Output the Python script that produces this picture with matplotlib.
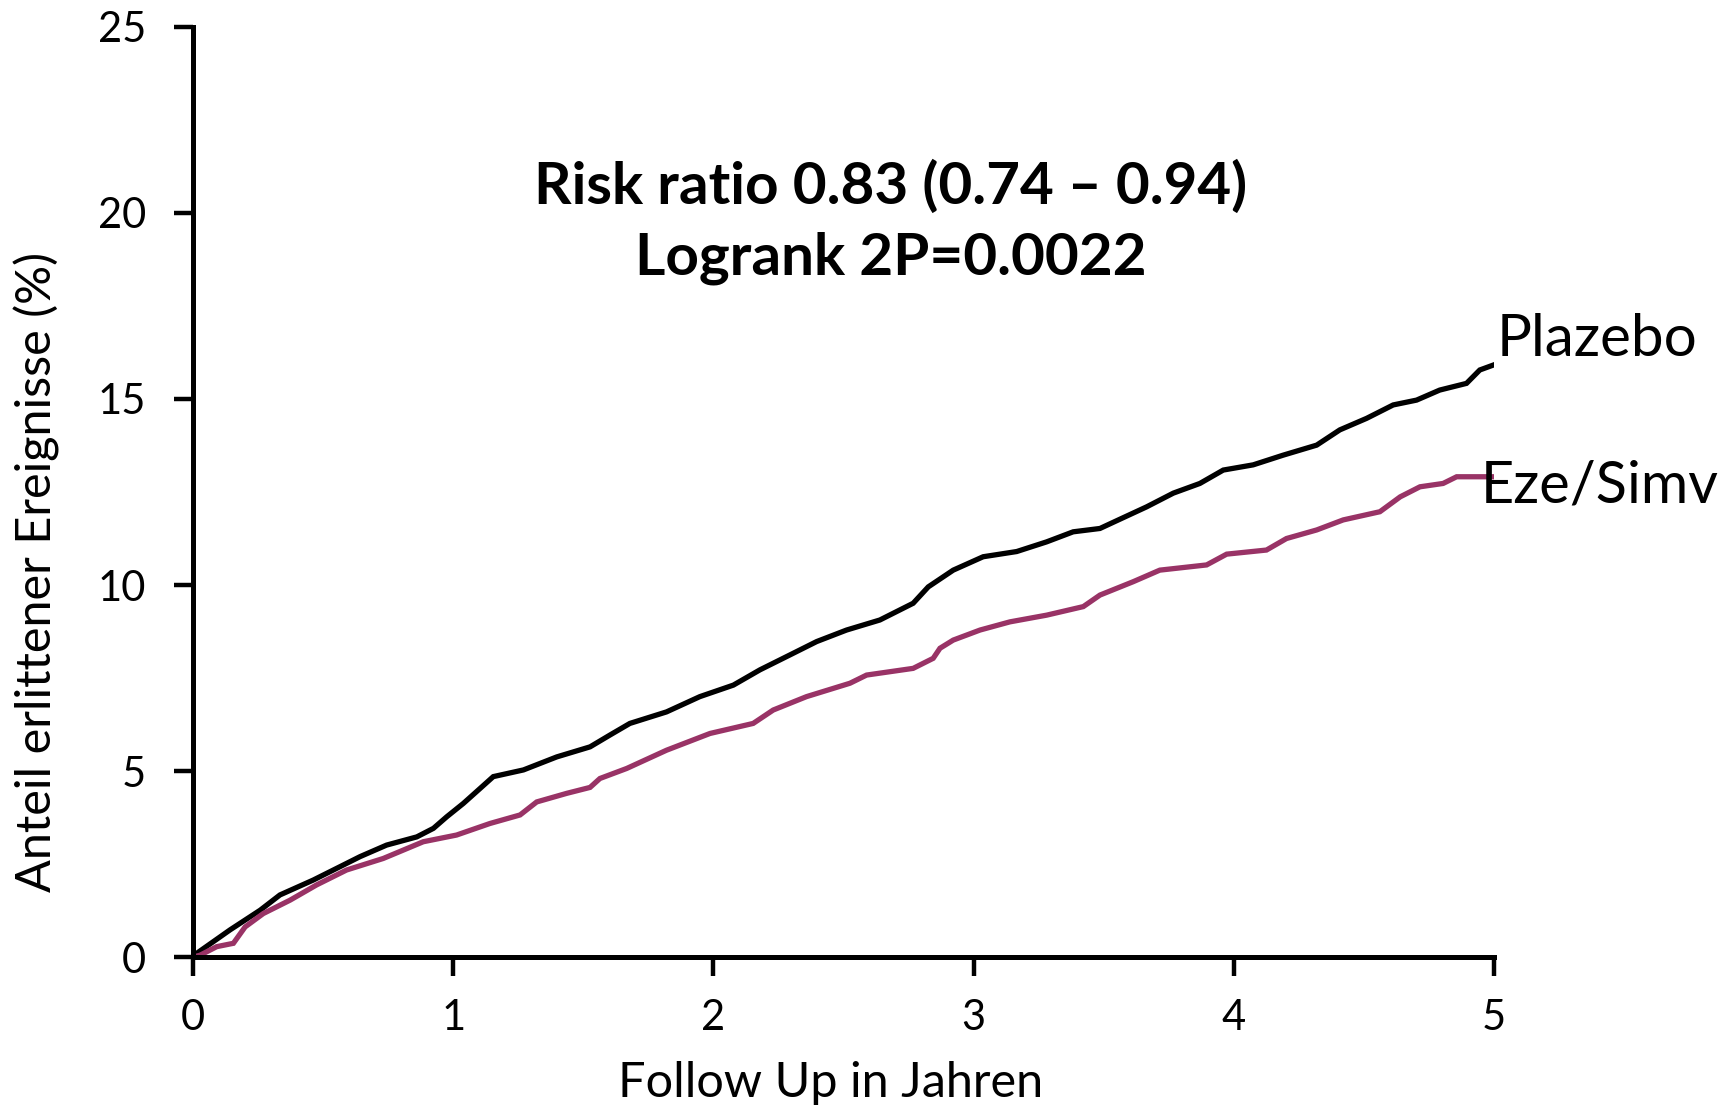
import matplotlib
matplotlib.use('Agg')
import matplotlib.pyplot as plt

plt.rcParams['font.family'] = ['Lato', 'DejaVu Sans']

# Kaplan-Meier style cumulative event curves
plazebo_x = [0, 0.014, 0.142, 0.258, 0.334, 0.462, 0.565, 0.642, 0.744, 0.860, 0.924,
             0.975, 1.039, 1.103, 1.154, 1.27, 1.398, 1.526, 1.603, 1.679, 1.82, 1.948,
             2.077, 2.179, 2.294, 2.397, 2.512, 2.64, 2.768, 2.826, 2.922, 3.037, 3.166,
             3.281, 3.383, 3.486, 3.563, 3.665, 3.768, 3.87, 3.96, 4.075, 4.19, 4.319,
             4.408, 4.511, 4.613, 4.703, 4.792, 4.895, 4.946, 4.997]
plazebo_y = [0, 0.1, 0.73, 1.26, 1.67, 2.07, 2.43, 2.70, 3.01, 3.23, 3.46,
             3.77, 4.13, 4.53, 4.85, 5.03, 5.38, 5.65, 5.97, 6.28, 6.59, 7.0,
             7.31, 7.72, 8.12, 8.48, 8.79, 9.06, 9.51, 9.95, 10.40, 10.76, 10.9,
             11.16, 11.43, 11.52, 11.77, 12.1, 12.47, 12.73, 13.09, 13.23, 13.49, 13.76,
             14.17, 14.48, 14.84, 14.97, 15.24, 15.42, 15.78, 15.91]

eze_x = [0, 0.027, 0.091, 0.155, 0.2, 0.27, 0.373, 0.475, 0.59, 0.731, 0.885, 1.013,
         1.141, 1.257, 1.321, 1.436, 1.526, 1.564, 1.667, 1.82, 1.987, 2.153, 2.23,
         2.358, 2.525, 2.589, 2.768, 2.845, 2.871, 2.922, 3.025, 3.14, 3.281, 3.422,
         3.486, 3.614, 3.716, 3.896, 3.973, 4.126, 4.203, 4.319, 4.421, 4.562, 4.64,
         4.716, 4.805, 4.857, 5.0]
eze_y = [0, 0.05, 0.28, 0.37, 0.81, 1.17, 1.53, 1.94, 2.34, 2.65, 3.1, 3.28,
         3.59, 3.82, 4.17, 4.40, 4.56, 4.80, 5.07, 5.56, 6.01, 6.28, 6.64,
         7.0, 7.36, 7.58, 7.76, 8.03, 8.30, 8.52, 8.79, 9.01, 9.19, 9.42,
         9.73, 10.09, 10.40, 10.54, 10.83, 10.94, 11.25, 11.48, 11.75, 11.97, 12.37,
         12.64, 12.73, 12.91, 12.91]

x_ticks = [0, 1, 2, 3, 4, 5]
y_ticks = [0, 5, 10, 15, 20, 25]

fig = plt.figure(figsize=(17.33, 11.09), dpi=100)
ax = fig.add_axes([0.1114, 0.137, 0.7506, 0.8387])

ax.plot(plazebo_x, plazebo_y, color='black', lw=3.8, solid_joinstyle='miter')
ax.plot(eze_x, eze_y, color='#993366', lw=3.8, solid_joinstyle='miter')

ax.set_xlim(0, 5)
ax.set_ylim(0, 25)
ax.set_xticks(x_ticks)
ax.set_yticks(y_ticks)
ax.tick_params(direction='out', length=14, width=3.2, labelsize=30)
ax.tick_params(axis='y', pad=20)
ax.tick_params(axis='x', pad=16)
for s in ['top', 'right']:
    ax.spines[s].set_visible(False)
for s in ['left', 'bottom']:
    ax.spines[s].set_linewidth(3.6)

ax.set_xlabel('Follow Up in Jahren', fontsize=35)
ax.set_ylabel('Anteil erlittener Ereignisse (%)', fontsize=35)
ax.xaxis.set_label_coords(0.490, -0.112)
ax.yaxis.set_label_coords(-0.102, 0.414)

ax.text(2.68, 19.75, 'Risk ratio 0.83 (0.74 \u2013 0.94)\nLogrank 2P=0.0022',
        ha='center', va='center', fontsize=42, fontweight='bold', linespacing=1.42)
ax.text(5.01, 16.6, 'Plazebo', ha='left', va='center', fontsize=42, clip_on=False)
ax.text(4.95, 12.66, 'Eze/Simv', ha='left', va='center', fontsize=41.5, clip_on=False)

fig.savefig('out.png', dpi=100)
